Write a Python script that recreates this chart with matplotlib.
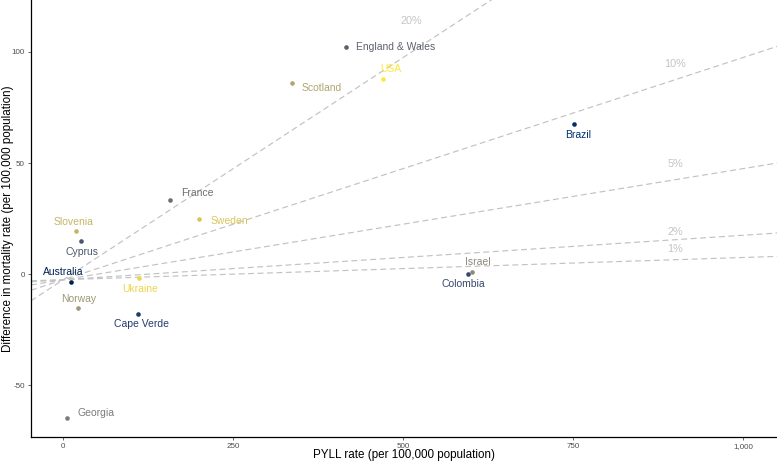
import matplotlib
matplotlib.use("Agg")
import matplotlib.pyplot as plt
import numpy as np

plt.rcParams['font.family'] = ['Liberation Sans', 'DejaVu Sans']
plt.rcParams['axes.unicode_minus'] = False

# data
countries = ['Australia', 'Brazil', 'Cape Verde', 'Colombia', 'Cyprus',
             'England & Wales', 'France', 'Georgia', 'Israel', 'Norway',
             'Scotland', 'Slovenia', 'Sweden', 'Ukraine', 'USA']
pyll = [11, 752, 110, 596, 26, 416, 157, 5, 602, 22, 336, 19, 200, 111, 471]
mort_diff = [-3.5, 67.7, -17.9, 0.0, 14.9, 102.4, 33.3, -64.6, 0.8, -15.2,
             85.9, 19.4, 24.6, -1.9, 87.8]
# label offsets in pixels (dx, dy, ha)
label_pos = {
    'Australia': (-8, 10, 'center'),
    'Brazil': (4, -11, 'center'),
    'Cape Verde': (3, -10, 'center'),
    'Colombia': (-5, -10, 'center'),
    'Cyprus': (1, -11, 'center'),
    'England & Wales': (10, 0, 'left'),
    'France': (11, 7, 'left'),
    'Georgia': (11, 5, 'left'),
    'Israel': (5, 10, 'center'),
    'Norway': (0, 9, 'center'),
    'Scotland': (10, -5, 'left'),
    'Slovenia': (-3, 9, 'center'),
    'Sweden': (11, -2, 'left'),
    'Ukraine': (1, -11, 'center'),
    'USA': (7, 10, 'center'),
}

pcts = [0.20, 0.10, 0.05, 0.02, 0.01]
pct_labels = ['20%', '10%', '5%', '2%', '1%']
pct_label_x = [512, 900, 900, 900, 900]
pct_label_y = [114, 94.6, 49.5, 18.9, 11.3]
line_offset = -2.5

fig = plt.figure(figsize=(7.77, 4.62), dpi=100)
ax = fig.add_axes([31 / 777, 1 - 437 / 462, 746 / 777, 437 / 462])

xlim = (-47.5, 1050)
ylim = (-73.3, 123.4)

xs = np.array(xlim)
for p, lab, lx, ly in zip(pcts, pct_labels, pct_label_x, pct_label_y):
    ax.plot(xs, p * xs + line_offset, color='#c2c2c2', lw=0.85,
            linestyle=(0, (5, 3)), zorder=1)
    ax.text(lx, ly, lab, color='#c4c4c4', fontsize=7.8, ha='center', va='center')

colors = plt.get_cmap('cividis')(np.linspace(0, 1, len(countries)))
for name, x, y, c in zip(countries, pyll, mort_diff, colors):
    ax.scatter(x, y, s=11, color=c, zorder=3, linewidths=0)
    dx, dy, ha = label_pos[name]
    ax.annotate(name, (x, y), xytext=(dx, dy), textcoords='offset pixels',
                ha=ha, va='center', fontsize=7.5, color=c)

ax.set_xlim(xlim)
ax.set_ylim(ylim)
ax.set_xticks([0, 250, 500, 750, 1000])
ax.set_xticklabels(['0', '250', '500', '750', '1,000'])
ax.set_yticks([-50, 0, 50, 100])
ax.tick_params(labelsize=5.8, colors='#4d4d4d', length=2.5, width=0.6, pad=2)
for s in ['top', 'right']:
    ax.spines[s].set_visible(False)
for s in ['left', 'bottom']:
    ax.spines[s].set_linewidth(0.9)
    ax.spines[s].set_color('black')

ax.set_xlabel('PYLL rate (per 100,000 population)', fontsize=8.4, va='center')
ax.set_ylabel('Difference in mortality rate (per 100,000 population)', fontsize=8.4, va='center')
ax.xaxis.set_label_coords(0.5, -(455 - 437) / 437)
ax.yaxis.set_label_coords(-(31 - 8) / 746, 0.5)

fig.savefig('out.png', dpi=100)
